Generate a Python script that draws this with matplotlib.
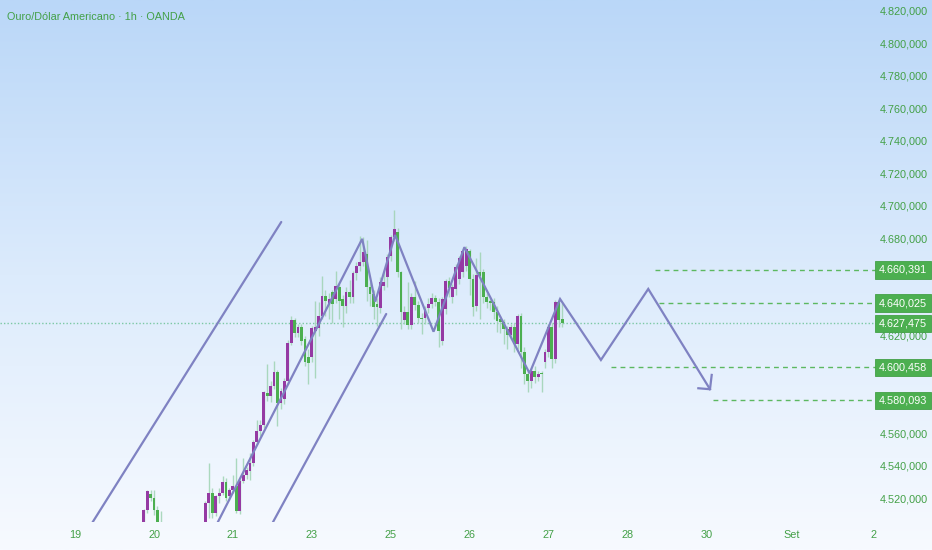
import numpy as np
import matplotlib
matplotlib.use("Agg")
from matplotlib import pyplot as plt
from matplotlib import transforms
from matplotlib.colors import LinearSegmentedColormap

plt.rcParams['font.family'] = ['Liberation Sans', 'DejaVu Sans']

# hourly candles (bar index, 0 = day "19"); bars 26-37 sit below the visible range
bar_idx = list(range(20, 26)) + list(range(38, 143))
opens = [4503, 4512.6, 4522.4, 4520, 4512.6, 4504,
         4502, 4516.9, 4523, 4510.7, 4521.1, 4523, 4529.7, 4521.1, 4524.8, 4527.3,
         4512, 4530.3, 4534, 4536.5, 4541.4, 4554.8, 4561.6, 4565.2, 4584.8, 4583,
         4589.1, 4597.7, 4578.7, 4581.2, 4592.2, 4615.5, 4629.5, 4621.6, 4625.3, 4617.9,
         4606.9, 4606.9, 4622.8, 4624.6, 4632, 4644.2, 4639.3, 4646.7, 4642.4, 4649.8,
         4642.4, 4638.1, 4646.7, 4643.6, 4658.3, 4662.6, 4665.1, 4670, 4649.8, 4645.5,
         4639.3, 4636.9, 4650.4, 4655.9, 4668.7, 4680.4, 4684, 4658.9, 4629.5, 4634.4,
         4626.5, 4643.6, 4638.7, 4630.8, 4630.8, 4636.9, 4639.3, 4643, 4640.6, 4616.7,
         4636.3, 4653.4, 4643.6, 4648.5, 4654.7, 4658.9, 4662.6, 4671.8, 4654.7, 4638.1,
         4659, 4658.9, 4643.6, 4641.2, 4640.6, 4634.4, 4630.2, 4628.3, 4624, 4620.4,
         4625.3, 4614.8, 4632, 4610, 4596.5, 4592.2, 4598.3, 4594.6, 4597, 4603.8,
         4610, 4625.3, 4605.7, 4640.6, 4630.2]
highs = [4513, 4524.8, 4524.8, 4524.8, 4515, 4512,
         4518.1, 4541.9, 4526, 4522, 4526, 4533.4, 4532.2, 4526, 4534, 4544.4,
         4532, 4544.4, 4539, 4547.5, 4556, 4568.3, 4568.3, 4586, 4602.6, 4592.2,
         4604.4, 4599, 4588, 4594, 4617, 4632, 4631, 4627, 4627, 4620,
         4612, 4626, 4641.2, 4640.6, 4656.5, 4648, 4646, 4648, 4659.6, 4652,
         4645, 4650, 4654, 4660, 4665, 4681, 4680.4, 4679.1, 4653, 4648,
         4643, 4656, 4660, 4670, 4682, 4697.5, 4686.5, 4660, 4638, 4652.8,
         4646, 4653.4, 4641, 4634, 4638, 4643, 4646, 4645, 4643, 4644,
         4655, 4656, 4652, 4664, 4669, 4673.5, 4674.9, 4673, 4658, 4668,
         4671.2, 4661, 4646, 4643, 4643, 4638, 4632, 4630, 4626, 4627,
         4628, 4633.5, 4634, 4613, 4599, 4600, 4601, 4598, 4598.3, 4612,
         4627, 4628, 4642, 4643, 4640]
lows = [4500, 4511, 4518, 4509.5, 4500, 4495,
        4500, 4507.7, 4507.7, 4509, 4517, 4522, 4518, 4519, 4523, 4510.7,
        4510, 4529, 4532, 4531, 4540, 4553, 4558.5, 4563, 4580, 4579,
        4587, 4564.6, 4575, 4578, 4590, 4614, 4619, 4619, 4614, 4601,
        4590, 4604, 4594, 4620, 4630, 4632, 4630, 4628, 4640, 4630,
        4625, 4634, 4640, 4640, 4654, 4660, 4663, 4641.2, 4638, 4630.2,
        4626, 4634, 4648, 4650, 4666, 4678, 4656, 4624, 4627, 4624,
        4624, 4636, 4628, 4621, 4627, 4634, 4637, 4638, 4613, 4614,
        4633, 4644, 4640, 4645, 4652, 4656, 4660, 4645, 4632, 4635,
        4630.2, 4640, 4637, 4636, 4630, 4622, 4621.6, 4615, 4612, 4618,
        4610, 4612, 4600, 4590, 4585.5, 4588, 4591, 4592, 4585.5, 4600,
        4607, 4600, 4603, 4625, 4625]
closes = [4512.6, 4524.2, 4520, 4512.6, 4504, 4498,
          4516.9, 4523, 4510.7, 4521.1, 4523, 4529.7, 4520, 4524.8, 4527.3, 4512,
          4530.3, 4534, 4537.1, 4541.4, 4554.8, 4561.6, 4565.2, 4585.5, 4583, 4589.1,
          4597.7, 4578.7, 4586.1, 4592.2, 4615.5, 4629.5, 4621.6, 4625.3, 4616.7, 4603.8,
          4603.2, 4624.6, 4625.3, 4632, 4644.2, 4641.2, 4642.4, 4639.3, 4650.4, 4641.2,
          4638.1, 4646.7, 4643.6, 4658.3, 4662.6, 4665.1, 4671.2, 4649.8, 4645.5, 4637.5,
          4637.5, 4652.8, 4652.8, 4668.1, 4680.4, 4685.3, 4658.9, 4634.4, 4634.4, 4626.5,
          4643.6, 4638.7, 4630.8, 4630.2, 4636.3, 4639.3, 4643, 4640.6, 4622.8, 4642.4,
          4653.4, 4649.1, 4649.8, 4662, 4667.5, 4671.8, 4673, 4654.7, 4637.5, 4657.1,
          4656.5, 4643.6, 4640.6, 4639.9, 4634.4, 4628.9, 4628.3, 4624, 4620.4, 4625.3,
          4614.8, 4632, 4610, 4596.5, 4592.2, 4598.3, 4594.6, 4596.5, 4596.3, 4610,
          4625.3, 4605.7, 4640.6, 4629.5, 4627.5]

# drawings (bar index, price)
channel_a = ([-1.8, 60.1], [4482, 4689.9])
channel_b = ([51.7, 90.7], [4482, 4633.3])
zigzag_x = [36.0, 83.7, 87.5, 93.3, 104.5, 113.5, 132.5, 141.4, 153.3, 167.1, 185.1]
zigzag_y = [4482, 4679.5, 4640.9, 4681.9, 4622.4, 4674.4, 4596.8, 4642.5, 4605.0, 4648.7, 4587.0]
arrow_x = [185.6, 185.1, 181.7]
arrow_y = [4595.8, 4587.0, 4587.6]

levels = [4660.391, 4640.025, 4600.458, 4580.093]
level_start = [169.1, 170.1, 156.2, 186.1]
last_price = 4627.475

day_pos = [0, 23, 46, 69, 92, 115, 138, 161, 184, 209, 232.9]
day_lbl = ["19", "20", "21", "23", "25", "26", "27", "28", "30", "Set", "2"]
price_ticks = list(range(4520, 4821, 20))

title = "Ouro/Dólar Americano · 1h · OANDA"

UP = '#953aa3'
DOWN = '#4caf50'
WICK = '#9fd3b3'
DRAW = '#7f82c2'
TXT = '#43a047'
FS = 7.8


def br(v):
    s = f"{v:,.3f}"
    return s.replace(",", "X").replace(".", ",").replace("X", ".")


fig = plt.figure(figsize=(9.32, 5.5), dpi=100)

bg = fig.add_axes([0, 0, 1, 1])
cmap = LinearSegmentedColormap.from_list("bg", ['#bad7f8', '#dcebfc', '#f7faff'])
bg.imshow(np.linspace(0, 1, 256).reshape(-1, 1), aspect='auto', cmap=cmap,
          extent=[0, 1, 0, 1])
bg.axis('off')
bg.set_zorder(0)

ax = fig.add_axes([0, 28 / 550, 876 / 932, 522 / 550])
ax.set_zorder(1)
ax.patch.set_alpha(0)
ax.set_xlim(-21.9, 233.5)
ax.set_ylim(4505.3, 4826.5)

x = np.array(bar_idx, dtype=float)
o = np.array(opens)
h = np.array(highs)
l = np.array(lows)
c = np.array(closes)
up = c >= o

ax.vlines(x, l, h, color=WICK, lw=1.0, alpha=0.85, zorder=2)
bottom = np.minimum(o, c)
height = np.maximum(np.abs(c - o), 0.8)
ax.bar(x[up], height[up], bottom=bottom[up], width=0.82, color=UP, zorder=3)
ax.bar(x[~up], height[~up], bottom=bottom[~up], width=0.82, color=DOWN, zorder=3)

# current price line
ax.axhline(last_price, color='#7cc8a4', lw=1.0, ls=(0, (1, 1.5)), zorder=1.5)

# target levels
for lv, xs in zip(levels, level_start):
    ax.plot([xs, 240], [lv, lv], color='#5cb860', lw=1.0, ls=(0, (3.5, 3)), zorder=2)

ax.plot(*channel_a, color=DRAW, lw=1.6, zorder=4, solid_capstyle='round')
ax.plot(*channel_b, color=DRAW, lw=1.6, zorder=4, solid_capstyle='round')
ax.plot(zigzag_x, zigzag_y, color=DRAW, lw=1.6, zorder=4, solid_joinstyle='miter')
ax.plot(arrow_x, arrow_y, color=DRAW, lw=1.6, zorder=4)

for s in ax.spines.values():
    s.set_visible(False)

ax.yaxis.tick_right()
ax.set_yticks(price_ticks)
ax.set_yticklabels([br(v) for v in price_ticks])
ax.set_xticks(day_pos)
ax.set_xticklabels(day_lbl)
ax.tick_params(axis='y', length=0, pad=3, labelsize=FS, labelcolor=TXT)
ax.tick_params(axis='x', length=0, pad=6, labelsize=FS, labelcolor=TXT)

tr = transforms.blended_transform_factory(ax.transAxes, ax.transData)
for v in levels + [last_price]:
    ax.text(1 + 3 / 876, v, br(v), transform=tr, ha='left', va='center',
            fontsize=FS, color='white', zorder=10, clip_on=False,
            bbox=dict(boxstyle='square,pad=0.35', fc='#4caf50', ec='#43a047', lw=0.6))

ax.text(7 / 876, 1 - 17 / 522, title, transform=ax.transAxes, ha='left', va='center',
        fontsize=FS, color=TXT)

fig.savefig("out.png", dpi=100)
